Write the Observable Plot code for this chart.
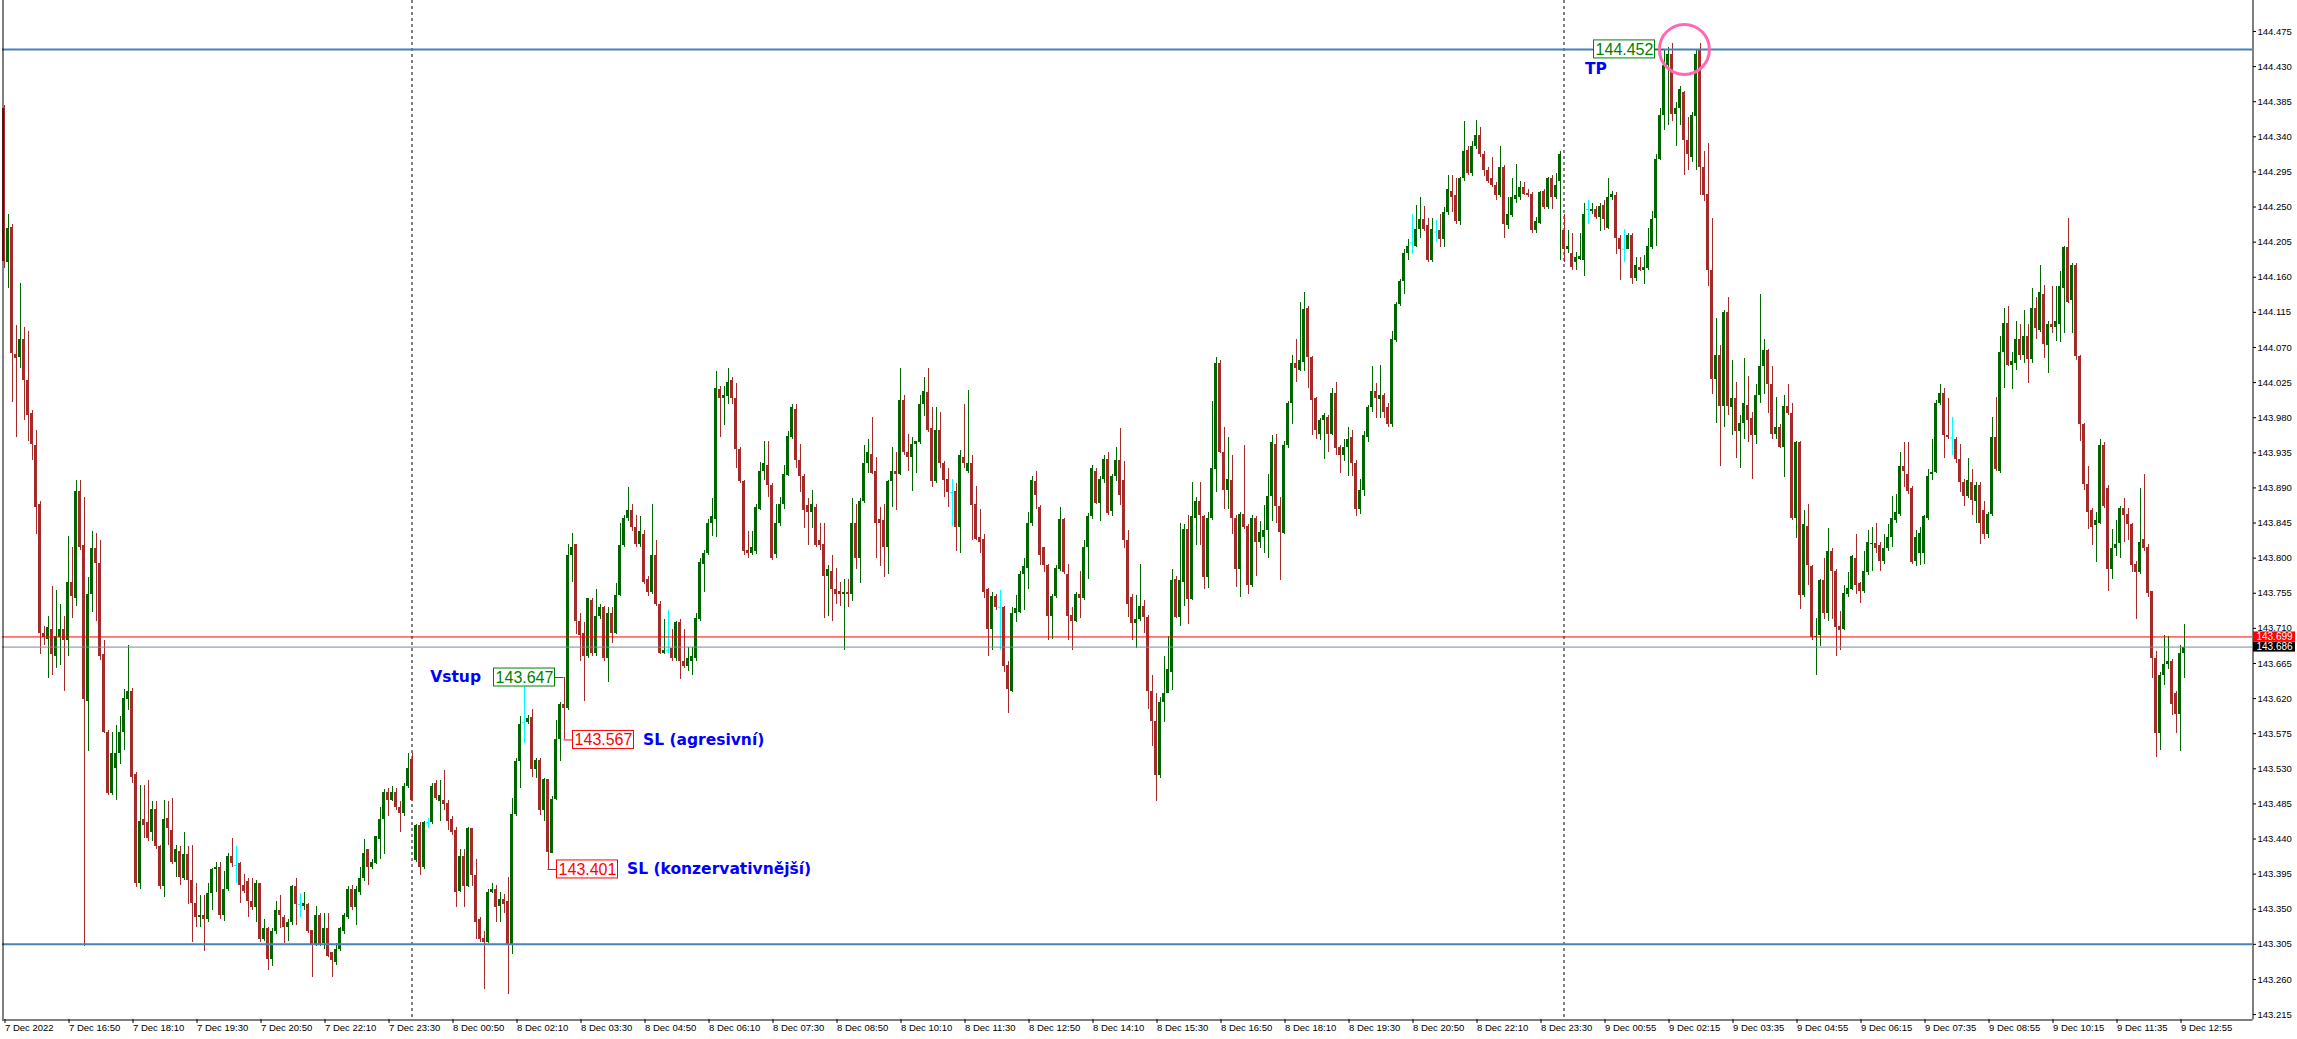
<!DOCTYPE html>
<html><head><meta charset="utf-8">
<script src="https://cdn.jsdelivr.net/npm/d3@7"></script>
<script src="https://cdn.jsdelivr.net/npm/@observablehq/plot@0.6"></script>
<style>html,body{margin:0;padding:0;background:#fff;overflow:hidden}</style>
</head><body><div id="chart"></div>
<script>
// USDJPY-like M5 candles, values in thousandths above 143.000 (e.g. 647 -> 143.647)
const BASE = 143, UNIT = 0.001;
const openPts = [
1376,1179,1224,1061,1057,1080,1028,985,945,869, 704,696,709,674,698,709,694,769,748,886,
816,616,754,812,793,676,577,498,531,550, 576,619,629,523,383,465,461,449,478,430,
379,466,451,410,424,389,420,387,358,339, 342,337,370,401,404,342,375,417,406,409,
381,386,360,352,383,311,325,286,321,348, 340,327,333,379,356,354,356,323,303,342,
306,325,294,282,298,321,340,375,352,371, 389,426,404,409,440,465,500,490,500,480,
473,507,542,412,457,403,461,461,511,488, 490,486,465,451,373,418,379,453,393,337,
313,308,372,375,354,362,360,303,471,539, 589,589,596,529,541,477,516,422,491,567,
613,607,803,818,719,704,674,746,678,725, 737,671,729,704,752,816,851,861,839,818,
830,772,756,803,740,678,682,684,671,717, 667,661,668,671,722,792,806,845,849,1016,
1004,1007,1028,1005,939,898,810,806,808,862, 911,919,893,805,845,869,906,954,991,925,
904,867,859,865,822,818,777,783,760,757, 754,756,754,845,800,872,921,933,911,849,
848,813,898,911,907,1002,935,929,946,948, 997,1012,966,898,964,921,901,884,886,839,
929,911,921,869,826,824,760,709,751,737, 737,663,629,729,730,779,787,844,898,865,
813,791,725,751,785,849,779,727,719,754, 748,814,853,911,870,901,927,860,904,925,
900,823,750,716,721,738,724,629,591,521, 615,627,654,773,724,769,837,747,851,872,
853,775,851,913,1050,936,887,900,851,785, 856,840,765,851,820,827,835,879,946,866,
831,944,998,1049,1041,1051,1120,1057,1004,959, 977,980,959,1011,942,931,942,954,921,862,
887,955,993,1014,1003,1008,993,971,1079,1125, 1154,1190,1204,1200,1221,1234,1226,1182,1218,1220,
1208,1243,1270,1265,1231,1286,1322,1293,1327,1342, 1317,1297,1286,1278,1265,1301,1226,1239,1260,1262,
1275,1267,1266,1220,1229,1270,1249,1286,1262,1283, 1220,1195,1190,1179,1183,1181,1247,1244,1247,1237,
1252,1223,1262,1265,1210,1196,1196,1213,1159,1173, 1169,1171,1198,1235,1311,1367,1431,1446,1369,1376,
1397,1335,1314,1366,1452,1301,1266,1169,1029,1060, 994,1115,993,1004,962,973,996,979,957,1008,
1045,1066,1022,959,967,942,994,985,851,948, 752,841,789,698,701,771,729,808,783,713,
708,753,760,800,768,757,781,817,819,816, 796,812,827,848,856,917,907,889,796,806,
806,851,907,910,998,1011,957,954,952,926, 897,879,897,872,893,861,830,856,955,911,
1063,1101,1047,1050,1080,1060,1084,1055,1120,1092, 1138,1072,1099,1095,1099,1146,1198,1130,1175,1058,
971,895,861,842,845,944,889,786,812,819, 864,856,843,792,781,824,814,757,672,575,
649,664,667,626,600,678];
const highPts = [
1380,1240,1227,1098,1152,1095,1090,989,964,872, 712,725,764,758,740,725,828,814,900,900,
878,775,834,831,823,694,579,577,585,597, 632,688,633,525,508,508,515,488,488,432,
490,488,492,432,430,449,430,432,383,368, 368,383,402,410,410,399,422,441,430,410,
395,389,389,387,383,337,327,325,360,368, 342,337,381,389,370,372,358,323,354,344,
344,344,294,306,327,344,379,381,379,403, 440,427,414,443,480,504,505,507,505,488,
511,550,550,459,461,463,466,511,515,515, 528,490,469,455,426,426,455,453,414,340,
321,375,383,381,372,369,391,492,543,597, 639,598,606,543,543,517,516,494,592,615,
647,818,831,818,729,717,748,748,760,740, 738,737,737,768,844,855,890,869,855,853,
836,777,869,822,744,721,733,709,719,721, 709,686,686,729,800,810,849,876,1039,1020,
1020,1043,1032,1024,942,900,834,834,869,923, 950,950,896,869,878,919,962,997,997,946,
907,876,887,869,845,845,791,803,787,769, 772,772,876,869,876,945,952,980,929,865,
869,900,942,935,1043,1008,958,954,950,1008, 1032,1043,993,993,987,924,915,901,896,938,
997,1015,931,892,862,830,761,756,754,758, 738,667,737,752,783,799,859,904,911,867,
814,792,754,791,865,851,792,737,756,783, 822,857,919,915,904,931,935,907,942,966,
924,835,754,752,792,746,726,649,626,622, 674,699,785,777,845,843,855,897,878,897,
855,858,1001,1057,1053,967,955,931,855,858, 944,843,855,853,847,868,907,957,959,878,
949,1001,1060,1080,1128,1141,1123,1058,1006,979, 985,983,1018,1025,944,952,967,963,925,901,
962,996,1045,1024,1047,1011,998,1091,1128,1157, 1196,1208,1241,1252,1262,1251,1235,1235,1233,1241,
1249,1290,1290,1286,1288,1359,1327,1334,1361,1352, 1321,1301,1314,1282,1328,1303,1262,1286,1305,1283,
1282,1272,1268,1237,1270,1272,1288,1290,1293,1321, 1241,1220,1216,1192,1216,1255,1258,1255,1251,1255,
1258,1286,1270,1268,1213,1221,1216,1216,1185,1185, 1188,1223,1244,1317,1376,1452,1454,1460,1384,1404,
1398,1365,1371,1451,1460,1321,1332,1235,1107,1072, 1117,1134,1053,1025,983,1056,1033,987,1022,1138,
1080,1068,1045,1006,971,1008,1022,998,949,949, 861,869,791,723,773,800,838,812,786,732,
765,781,804,830,769,809,835,839,845,820, 830,843,879,882,936,948,948,892,835,839,
855,913,952,1002,1022,1018,1004,980,954,946, 901,928,913,897,897,872,858,980,1006,1084,
1120,1122,1064,1103,1099,1117,1099,1146,1134,1175, 1150,1103,1148,1148,1167,1200,1235,1177,1177,1060,
973,918,864,858,952,948,893,837,848,866, 876,864,845,796,889,907,817,757,680,653,
701,699,670,629,688,715];
const lowPts = [
1171,1146,1000,955,1043,977,949,925,830,676, 688,646,650,659,663,629,674,723,738,810,
302,552,730,719,669,575,496,496,490,535, 554,605,511,378,375,441,437,437,427,375,
365,432,407,391,381,387,356,308,327,326, 296,333,348,372,337,334,373,404,383,358,
370,339,348,333,308,309,271,277,317,325, 306,309,329,329,340,348,319,263,302,302,
298,288,263,278,296,317,337,348,329,368, 386,381,401,407,414,420,469,488,476,449,
469,505,488,410,393,401,453,459,489,463, 476,451,445,352,372,352,378,379,311,308,
247,306,370,333,333,344,241,292,469,505, 562,587,519,518,470,462,401,421,490,540,
567,605,769,702,667,616,671,674,674,721, 668,641,690,702,751,813,847,834,814,814,
766,751,754,738,676,676,678,668,668,645, 659,655,650,668,719,756,803,828,826,954,
970,997,997,915,896,803,799,803,805,861, 900,878,797,800,841,862,904,952,915,884,
838,816,838,814,810,723,725,719,740,738, 681,737,744,785,768,870,909,907,799,789,
775,779,865,861,906,931,911,886,908,946, 981,961,890,896,915,878,865,841,808,806,
915,909,822,822,806,748,674,682,733,682, 653,601,628,717,729,733,760,841,862,791,
782,694,696,748,783,779,694,682,717,723, 746,772,849,869,847,896,855,853,898,868,
812,724,695,684,719,703,606,559,488,517, 589,626,631,723,713,738,715,746,816,816,
760,761,848,884,934,862,862,830,763,750, 837,754,763,777,812,806,799,847,845,771,
830,940,971,1025,1039,1039,1018,957,952,951, 926,936,957,932,909,924,905,905,853,856,
879,948,987,979,979,979,967,967,1076,1122, 1138,1181,1189,1198,1210,1219,1179,1179,1204,1198,
1198,1239,1243,1227,1226,1283,1291,1289,1324,1313, 1289,1280,1275,1258,1262,1210,1221,1237,1255,1258,
1265,1262,1216,1216,1227,1247,1247,1247,1260,1182, 1179,1190,1169,1169,1181,1161,1227,1241,1234,1218,
1220,1221,1258,1189,1156,1179,1195,1151,1154,1167, 1151,1169,1196,1200,1309,1348,1355,1359,1328,1355,
1291,1297,1307,1297,1265,1257,1148,1010,973,918, 967,983,957,928,915,952,948,901,946,998,
1010,986,952,952,940,903,983,848,825,734, 750,765,695,649,687,721,719,721,674,682,
707,750,758,754,742,755,778,783,806,783, 792,808,814,845,854,890,882,792,789,791,
792,848,900,909,996,928,952,931,921,884, 866,876,855,845,817,824,825,854,911,909,
1018,1045,1016,1041,1053,1049,1024,1049,1080,1089, 1056,1037,1088,1078,1076,1088,1126,1088,1053,949,
887,837,816,794,843,864,757,773,802,800, 820,823,781,722,779,808,750,646,544,553,
637,657,598,575,552,646];
const closePts = [
1180,1223,1062,1056,1080,1028,983,946,865,704, 698,711,676,699,708,694,769,751,886,814,
619,754,812,793,674,577,498,550,550,576, 620,629,519,383,463,457,441,478,430,379,
465,453,410,426,391,420,387,358,339,342, 337,370,401,404,342,375,417,409,406,381,
373,360,352,383,311,325,286,321,348,342, 327,333,379,356,356,358,321,303,342,303,
325,290,284,298,325,342,375,352,375,389, 422,403,410,443,465,500,490,500,480,473,
507,531,490,457,403,461,461,507,492,496, 484,463,449,372,417,379,453,393,333,311,
308,372,375,352,362,356,303,471,539,587, 589,595,529,541,477,516,423,491,567,613,
607,803,814,719,701,674,748,678,725,737, 671,729,704,752,816,851,861,839,818,834,
769,756,803,740,678,682,682,671,717,667, 661,671,674,723,795,806,845,853,1018,1005,
1008,1025,1005,939,898,808,806,813,865,911, 921,893,800,845,869,907,956,993,925,904,
861,859,869,816,816,777,785,760,754,754, 756,754,845,800,872,921,935,909,845,845,
814,898,911,907,1002,935,929,946,950,997, 1014,963,898,964,921,900,884,884,839,932,
921,921,867,824,820,756,709,751,737,737, 661,632,729,735,779,789,845,900,880,803,
791,725,751,787,849,782,725,719,754,748, 813,853,915,870,901,927,857,904,925,880,
823,740,716,721,738,724,629,591,521,615, 626,657,771,724,771,837,747,853,872,855,
775,851,915,1049,936,887,901,851,785,856, 839,765,851,820,833,835,879,948,866,833,
944,998,1049,1043,1053,1119,1057,1002,963,977, 983,959,1011,940,931,942,952,921,862,887,
957,993,1014,1004,1008,987,971,1080,1125,1154, 1190,1200,1204,1221,1234,1221,1182,1221,1218,1208,
1243,1272,1262,1231,1286,1321,1293,1327,1342,1317, 1297,1283,1278,1265,1301,1227,1241,1262,1265,1275,
1266,1265,1220,1231,1268,1249,1286,1262,1278,1317, 1195,1200,1173,1185,1186,1241,1247,1247,1237,1251,
1234,1262,1266,1210,1196,1196,1213,1159,1175,1169, 1173,1200,1234,1311,1367,1431,1446,1369,1376,1400,
1335,1317,1367,1446,1301,1265,1169,1029,1060,994, 1115,994,1004,962,973,998,977,957,1008,1045,
1066,1022,959,967,942,994,985,851,948,752, 843,791,698,700,771,729,808,783,711,707,
755,761,802,765,757,783,820,819,812,796, 812,827,851,858,917,911,886,794,827,831,
853,905,910,998,1011,957,954,954,926,897, 879,899,874,893,845,830,856,955,913,1063,
1101,1047,1052,1080,1060,1084,1055,1120,1094,1140, 1074,1099,1095,1103,1148,1198,1128,1175,1058,971,
895,858,839,848,944,866,786,812,817,864, 855,843,791,781,820,812,755,672,575,649,
664,667,612,600,678,686];

// time axis labels (one every 16 bars)
const xTickLabels = ["7 Dec 2022","7 Dec 16:50","7 Dec 18:10","7 Dec 19:30","7 Dec 20:50","7 Dec 22:10","7 Dec 23:30",
"8 Dec 00:50","8 Dec 02:10","8 Dec 03:30","8 Dec 04:50","8 Dec 06:10","8 Dec 07:30","8 Dec 08:50","8 Dec 10:10",
"8 Dec 11:30","8 Dec 12:50","8 Dec 14:10","8 Dec 15:30","8 Dec 16:50","8 Dec 18:10","8 Dec 19:30","8 Dec 20:50",
"8 Dec 22:10","8 Dec 23:30","9 Dec 00:55","9 Dec 02:15","9 Dec 03:35","9 Dec 04:55","9 Dec 06:15","9 Dec 07:35",
"9 Dec 08:55","9 Dec 10:15","9 Dec 11:35","9 Dec 12:55"];
const xTickBars = xTickLabels.map((_, k) => k * 16);
const yTicks = [143.215,143.260,143.305,143.350,143.395,143.440,143.485,143.530,143.575,143.620,143.665,143.710,
143.755,143.800,143.845,143.890,143.935,143.980,144.025,144.070,144.115,144.160,144.205,144.250,144.295,144.340,
144.385,144.430,144.475];
const daySeparatorBars = [102, 390];
const levelLines = [144.452, 143.305];
const askPrice = 143.699, bidPrice = 143.686;
const priceLabels = [
  {text: "143.647", price: 143.647, bar: 140, side: "left",  color: "#008000"},
  {text: "143.567", price: 143.567, bar: 140, side: "right", color: "#ff0000"},
  {text: "143.401", price: 143.401, bar: 136, side: "right", color: "#ff0000"},
  {text: "144.452", price: 144.452, bar: 415, side: "left",  color: "#008000"}
];
const noteTexts = ["Vstup", "SL (agresivní)", "SL (konzervativnější)", "TP"];
const highlight = {bar: 420.1, price: 144.452};

// ---- layout
const W = 2297, H = 1039, ML = 2, MR = 45, MT = 0, MB = 20;
const xDomain = [-0.375, 562.125];
const yDomain = [143.2087, 144.5147];
const PX_BAR = (W - ML - MR) / (xDomain[1] - xDomain[0]);
const PX_UNIT = (H - MT - MB) / (yDomain[1] - yDomain[0]);
const pxB = p => p / PX_BAR, pxP = p => p / PX_UNIT;

const n = openPts.length;
if (highPts.length !== n || lowPts.length !== n || closePts.length !== n)
  throw new Error("length mismatch " + [n, highPts.length, lowPts.length, closePts.length]);

const BULL = "#006400", BEAR = "#a52a2a", DOJI = "#00ffff";
const candles = openPts.map((o, i) => {
  const O = BASE + o * UNIT, C = BASE + closePts[i] * UNIT;
  const Hh = BASE + Math.max(highPts[i], o, closePts[i]) * UNIT;
  const L = BASE + Math.min(lowPts[i], o, closePts[i]) * UNIT;
  const color = C > O ? BULL : C < O ? BEAR : DOJI;
  let top = Math.max(O, C), bot = Math.min(O, C);
  if (top - bot < pxP(1)) { const m = (top + bot) / 2; top = m + pxP(0.5); bot = m - pxP(0.5); }
  return {i, O, H: Hh, L, C, color, top, bot, doji: C === O};
});
const bodies = candles.filter(d => !d.doji);
const dojis = candles.filter(d => d.doji);

const BOX_W = 61, BOX_H = 18, GAP = 9;
const labels = priceLabels.map((d, k) => {
  const edge = d.side === "left" ? d.bar - pxB(GAP) : d.bar + pxB(GAP);
  const x1 = d.side === "left" ? edge - pxB(BOX_W) : edge;
  const x2 = d.side === "left" ? edge : edge + pxB(BOX_W);
  return {...d, edge, x1, x2, cx: (x1 + x2) / 2, note: noteTexts[k]};
});
const notesStart = [], notesEnd = [];
labels.forEach((d, k) => {
  if (k === 3) notesStart.push({text: d.note, x: d.x1 - pxB(9), y: d.price - pxP(20)});
  else if (d.side === "left") notesEnd.push({text: d.note, x: d.x1 - pxB(13), y: d.price});
  else notesStart.push({text: d.note, x: d.x2 + pxB(9), y: d.price});
});
const tags = [
  {text: askPrice.toFixed(3), price: askPrice, bg: "#ff0000"},
  {text: bidPrice.toFixed(3), price: bidPrice, bg: "#000000"}
];
const tagX1 = xDomain[1] + pxB(1), tagX2 = xDomain[1] + pxB(43);
const labelByBar = new Map(xTickBars.map((b, k) => [b, xTickLabels[k]]));
const noteFont = {fill: "#0000ff", fontWeight: "bold", fontSize: 15.5, fontFamily: "'DejaVu Sans', Verdana, sans-serif"};

const chart = Plot.plot({
  width: W, height: H, marginLeft: ML, marginRight: MR, marginTop: MT, marginBottom: MB,
  x: {domain: xDomain, axis: null},
  y: {domain: yDomain, axis: null},
  color: {type: "identity"},
  style: {fontFamily: "'Liberation Sans', Arial, sans-serif", fontSize: "9.5px", background: "#fff", overflow: "visible"},
  marks: [
    Plot.ruleX(daySeparatorBars, {x: d => d, stroke: "#000", strokeDasharray: "3,3", strokeWidth: 1}),
    Plot.ruleX(candles, {x: "i", y1: "L", y2: "H", stroke: "color", strokeWidth: 1, shapeRendering: "crispEdges"}),
    Plot.rect(bodies, {x1: d => d.i - 0.375, x2: d => d.i + 0.375, y1: "bot", y2: "top", fill: "color", shapeRendering: "crispEdges"}),
    Plot.ruleY(dojis, {y: "O", x1: d => d.i - 0.375, x2: d => d.i + 0.375, stroke: DOJI, strokeWidth: 1}),
    Plot.ruleY(levelLines, {y: d => d, stroke: "#4682b4", strokeWidth: 2}),
    Plot.ruleY([askPrice], {y: d => d, stroke: "#ff0000", strokeWidth: 1}),
    Plot.ruleY([bidPrice], {y: d => d, stroke: "#778899", strokeWidth: 1}),
    // price label objects
    Plot.ruleY(labels, {y: "price", x1: "bar", x2: "edge", stroke: "color", strokeWidth: 1}),
    Plot.rect(labels, {x1: "x1", x2: "x2", y1: d => d.price - pxP(BOX_H / 2), y2: d => d.price + pxP(BOX_H / 2), fill: "#fff", stroke: "color", strokeWidth: 1}),
    Plot.text(labels, {x: "cx", y: "price", text: "text", fill: "color", fontSize: 16, fontFamily: "'Liberation Sans', Arial, sans-serif"}),
    Plot.text(notesStart, {x: "x", y: "y", text: "text", textAnchor: "start", ...noteFont}),
    Plot.text(notesEnd, {x: "x", y: "y", text: "text", textAnchor: "end", ...noteFont}),
    Plot.dot([highlight], {x: "bar", y: "price", r: 25, stroke: "#ff69b4", strokeWidth: 3, fill: "none"}),
    // frame lines
    Plot.ruleX([xDomain[0] + pxB(0.5)], {x: d => d, stroke: "#000", strokeWidth: 1}),
    Plot.ruleX([xDomain[1] + pxB(0.5)], {x: d => d, y1: yDomain[0] - pxP(0.5), y2: yDomain[1], stroke: "#000", strokeWidth: 1}),
    Plot.ruleY([yDomain[0] - pxP(0.5)], {y: d => d, x1: xDomain[0], x2: xDomain[1] + pxB(0.5), stroke: "#000", strokeWidth: 1}),
    Plot.axisY(yTicks, {anchor: "right", tickFormat: d3.format(".3f"), tickSize: 3, tickPadding: 2, label: null}),
    Plot.axisX(xTickBars, {anchor: "bottom", tickFormat: d => labelByBar.get(d), textAnchor: "start", tickSize: 4, tickPadding: 1, dx: 1, label: null}),
    // bid / ask tags on the price scale
    Plot.rect(tags, {x1: tagX1, x2: tagX2, y1: d => d.price - pxP(5), y2: d => d.price + pxP(5), fill: "bg"}),
    Plot.text(tags, {x: (tagX1 + tagX2) / 2, y: "price", text: "text", fill: "#fff", fontSize: 10})
  ]
});
document.getElementById("chart").appendChild(chart);
</script>
</body></html>
